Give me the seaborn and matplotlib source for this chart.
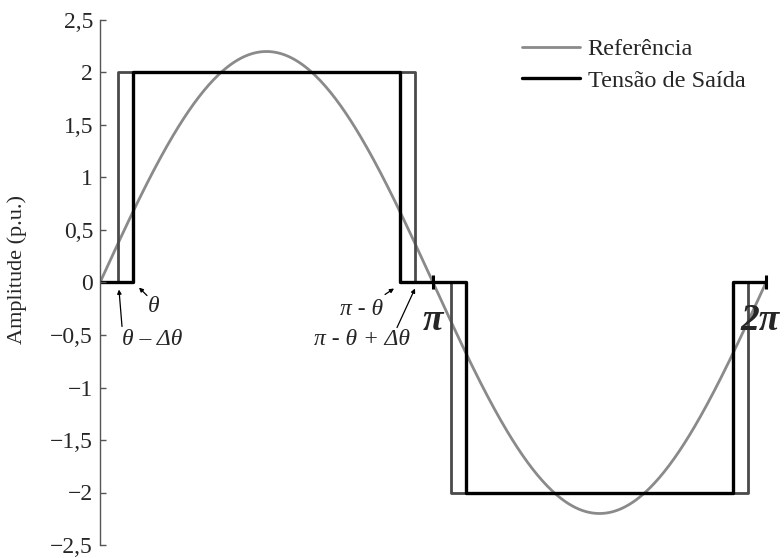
import numpy as np
import pandas as pd
import matplotlib
matplotlib.use("Agg")
import matplotlib.pyplot as plt
import matplotlib.transforms as mtransforms
import seaborn as sns

# ---------------- data ----------------
PI = np.pi
ref_amplitude = 2.2          # peak of the reference sine (p.u.)
out_level = 2.0              # output voltage level (p.u.)
theta = 0.10 * PI            # switching angle
dtheta = 0.045 * PI          # angle shift

# black output (Tensão de Saída) breakpoints
out_x = [0, theta, theta, PI - theta, PI - theta, PI + theta, PI + theta,
         2 * PI - theta, 2 * PI - theta, 2 * PI]
out_y = [0, 0, out_level, out_level, 0, 0, -out_level, -out_level, 0, 0]

# dark gray shifted output breakpoints
shift_x = [0, theta - dtheta, theta - dtheta, PI - theta + dtheta, PI - theta + dtheta,
           PI + theta - dtheta, PI + theta - dtheta, 2 * PI - theta + dtheta,
           2 * PI - theta + dtheta, 2 * PI]
shift_y = [0, 0, out_level, out_level, 0, 0, -out_level, -out_level, 0, 0]

ref_x = np.linspace(0, 2 * PI, 400)
ref_y = ref_amplitude * np.sin(ref_x)

y_ticks = [-2.5, -2, -1.5, -1, -0.5, 0, 0.5, 1, 1.5, 2, 2.5]
y_ticklabels = ["\u22122,5", "\u22122", "\u22121,5", "\u22121", "\u22120,5", "0",
                "0,5", "1", "1,5", "2", "2,5"]
x_ticks = [PI, 2 * PI]
x_ticklabels = ["\u03c0", "2\u03c0"]
series_names = ["Refer\u00eancia", "Tens\u00e3o de Sa\u00edda"]
ylabel = "Amplitude (p.u.)"

annot_labels = ["\u03b8", "\u03b8 \u2013 \u0394\u03b8", "\u03c0 - \u03b8", "\u03c0 - \u03b8 + \u0394\u03b8"]

# ---------------- style ----------------
sns.set_style("white")
plt.rcParams["font.family"] = ["Liberation Serif", "DejaVu Serif"]

fig = plt.figure(figsize=(7.84, 5.58), dpi=100)
ax = fig.add_axes([100 / 784, 13 / 558, 666 / 784, 525 / 558])

ref_df = pd.DataFrame({"x": ref_x, "y": ref_y})
shift_df = pd.DataFrame({"x": shift_x, "y": shift_y})
out_df = pd.DataFrame({"x": out_x, "y": out_y})

sns.lineplot(data=ref_df, x="x", y="y", ax=ax, color="#8a8a8a", lw=2.0,
             sort=False, estimator=None, label=series_names[0])
sns.lineplot(data=shift_df, x="x", y="y", ax=ax, color="#4a4a4a", lw=2.0,
             sort=False, estimator=None, label="_nolegend_")
sns.lineplot(data=out_df, x="x", y="y", ax=ax, color="black", lw=2.4,
             sort=False, estimator=None, label=series_names[1])

ax.set_xlim(0, 2 * PI)
ax.set_ylim(-2.5, 2.5)
ax.set_axisbelow(False)

# spines
for s in ["top", "right"]:
    ax.spines[s].set_visible(False)
ax.spines["left"].set_color("#555555")
ax.spines["left"].set_linewidth(1.0)
ax.spines["bottom"].set_position(("data", 0))
ax.spines["bottom"].set_visible(False)

ax.set_yticks(y_ticks)
ax.set_yticklabels(y_ticklabels, fontsize=17)
ax.tick_params(axis="y", left=True, direction="in", length=4, width=1,
               color="#555555", pad=5)

ax.set_xticks(x_ticks)
ax.set_xticklabels(x_ticklabels, fontsize=27, fontweight="bold", fontstyle="italic")
ax.tick_params(axis="x", bottom=True, direction="inout", length=10, width=2.2,
               color="black", pad=10)
lbls = ax.get_xticklabels()
lbls[1].set_transform(lbls[1].get_transform() +
                      mtransforms.ScaledTranslation(-6 / 100, 0, fig.dpi_scale_trans))

ax.set_xlabel("")
ax.set_ylabel(ylabel, fontsize=16)
ax.yaxis.set_label_coords(-0.11, 0.524)

# annotations (text position, arrow tail, arrow head) in data coords
annot_text_pos = [(0.509, -0.229), (0.491, -0.543), (2.472, -0.257), (2.472, -0.543)]
annot_tail = [(0.443, -0.124), (0.2076, -0.419), (2.689, -0.114), (2.802, -0.429)]
annot_head = [(0.368, -0.048), (0.179, -0.067), (2.774, -0.057), (2.972, -0.057)]
for lab, tp, tl, hd in zip(annot_labels, annot_text_pos, annot_tail, annot_head):
    ax.text(tp[0], tp[1], lab, fontsize=17, fontstyle="italic", ha="center", va="center")
    ax.annotate("", xy=hd, xytext=tl,
                arrowprops=dict(arrowstyle="-|>", color="black", lw=0.9,
                                mutation_scale=6, shrinkA=0, shrinkB=0))

leg = ax.legend(loc="upper left", bbox_to_anchor=(522 / 784, 1 - 38 / 558),
                bbox_transform=fig.transFigure, frameon=False, fontsize=17.5,
                handlelength=2.4, handletextpad=0.3, labelspacing=0.4,
                borderpad=0, borderaxespad=0)

fig.savefig("out.png", dpi=100)
